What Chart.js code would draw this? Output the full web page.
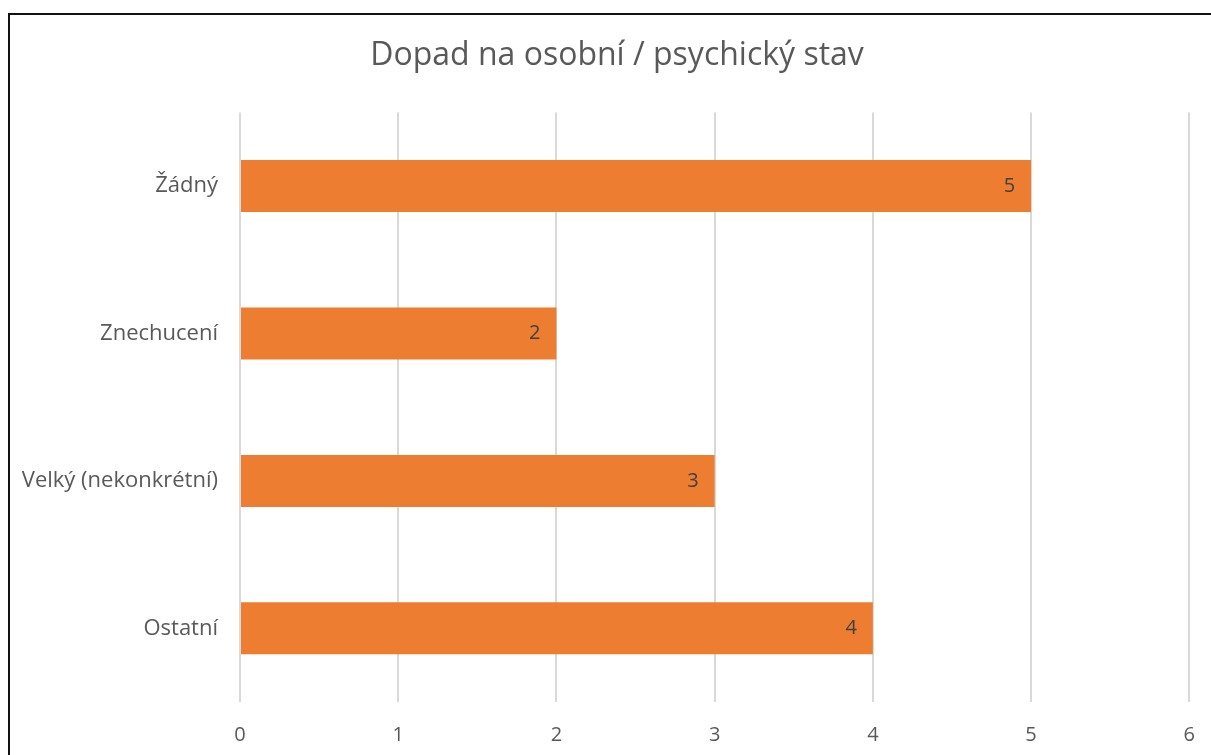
<!DOCTYPE html>
<html>
<head>
<meta charset="utf-8">
<script src="https://cdn.jsdelivr.net/npm/chart.js@4.4.1/dist/chart.umd.min.js"></script>
<style>
body{margin:0;overflow:hidden;background:#fff;}
#frame{position:absolute;left:8px;top:13px;width:1260px;height:800px;border:2px solid #111;}
#wrap{position:absolute;left:0;top:0;width:1216px;height:755px;}
</style>
</head>
<body>
<div id="frame"></div>
<div id="wrap"><canvas id="chart"></canvas></div>
<script>
var categories = ["Žádný", "Znechucení", "Velký (nekonkrétní)", "Ostatní"];
var counts = [5, 2, 3, 4];
var axisMin = 0;
var axisMax = 6;
var chartTitle = "Dopad na osobní / psychický stav";

var fontName = '"Open Sans", "Noto Sans", sans-serif';

// value labels inside the end of each bar
var barLabels = {
  id: 'barLabels',
  afterDatasetsDraw: function(chart){
    var ctx = chart.ctx;
    var meta = chart.getDatasetMeta(0);
    ctx.save();
    ctx.font = '20px ' + fontName;
    ctx.fillStyle = '#404040';
    ctx.textAlign = 'right';
    ctx.textBaseline = 'middle';
    meta.data.forEach(function(bar, i){
      ctx.fillText(String(counts[i]), bar.x - 16, bar.y);
    });
    ctx.restore();
  }
};

// original chart was wider than the crop, so its title sits a bit right of centre
var titleShift = {
  id: 'titleShift',
  afterLayout: function(chart){
    if(chart.titleBlock) chart.titleBlock.left += 18;
  }
};

var ctx = document.getElementById('chart');
var myChart = new Chart(ctx, {
  type: 'bar',
  data: {
    labels: categories,
    datasets: [{
      data: counts,
      backgroundColor: '#ED7D31',
      borderWidth: 0,
      barPercentage: 0.353,
      categoryPercentage: 1
    }]
  },
  options: {
    indexAxis: 'y',
    responsive: true,
    maintainAspectRatio: false,
    animation: false,
    layout: {padding: {left: 0, right: 0, top: 0, bottom: 0}},
    plugins: {
      legend: {display: false},
      tooltip: {enabled: false},
      title: {
        display: true,
        text: chartTitle,
        color: '#595959',
        font: {family: fontName, size: 32, weight: 'normal'},
        padding: {top: 37, bottom: 37}
      }
    },
    scales: {
      x: {
        min: axisMin,
        max: axisMax,
        ticks: {stepSize: 1, color: '#595959', padding: 21, font: {family: fontName, size: 20}},
        grid: {color: '#d9d9d9', lineWidth: 2, drawTicks: false},
        border: {display: false},
        afterFit: function(scale){ scale.height = 53; }
      },
      y: {
        ticks: {color: '#595959', padding: 14, font: {family: fontName, size: 22}},
        grid: {display: false},
        border: {display: false},
        afterFit: function(scale){ scale.width = 240; }
      }
    }
  },
  plugins: [barLabels, titleShift]
});
</script>
</body>
</html>
